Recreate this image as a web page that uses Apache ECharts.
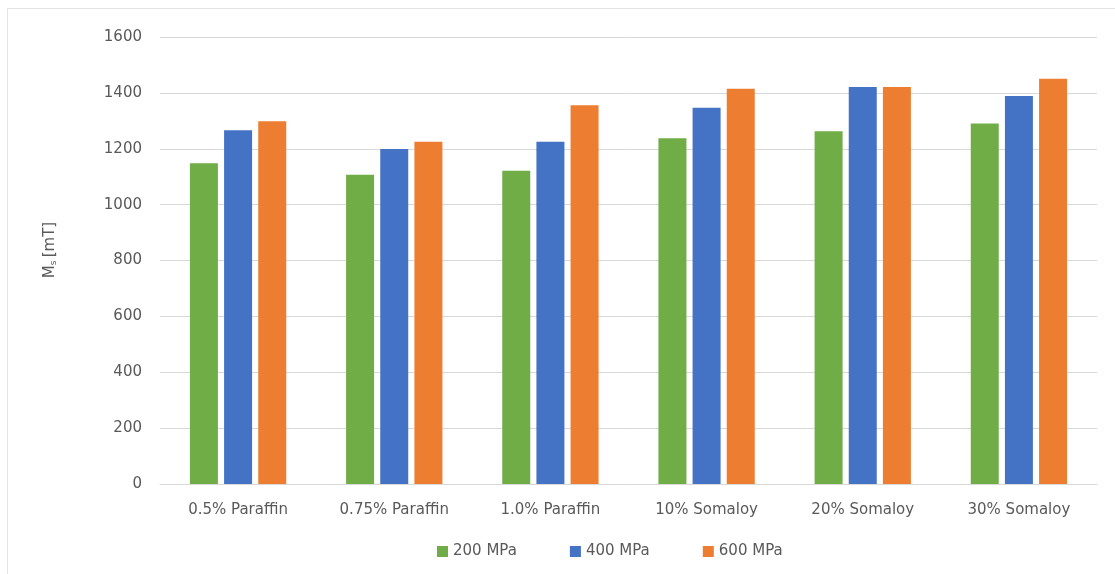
<!DOCTYPE html>
<html>
<head>
<meta charset="utf-8">
<script src="https://cdn.jsdelivr.net/npm/echarts@6/dist/echarts.min.js"></script>
<style>
  html, body { margin: 0; padding: 0; background: #fff; }
  #frame { position: absolute; left: 7px; top: 8px; width: 1120px; height: 580px; border: 1px solid #e4e4e4; box-sizing: border-box; }
  #chart { position: absolute; left: 0; top: 0; width: 1115px; height: 574px; }
</style>
</head>
<body>
<div id="frame"></div>
<div id="chart"></div>
<script>
// Saturation magnetisation per sample, by compaction pressure
const categories = ['0.5% Paraffin', '0.75% Paraffin', '1.0% Paraffin', '10% Somaloy', '20% Somaloy', '30% Somaloy'];
const seriesNames = ['200 MPa', '400 MPa', '600 MPa'];
const ms200 = [1148, 1107, 1121, 1238, 1263, 1290];
const ms400 = [1266, 1199, 1225, 1347, 1421, 1389];
const ms600 = [1298, 1225, 1356, 1415, 1421, 1451];
const colors = ['#70AD47', '#4472C4', '#ED7D31'];

const textColor = '#595959';
const font = '"DejaVu Sans", "Open Sans", sans-serif';

const chart = echarts.init(document.getElementById('chart'), null, { renderer: 'canvas' });

const values = [ms200, ms400, ms600];
chart.setOption({
  animation: false,
  backgroundColor: 'transparent',
  color: colors,
  grid: { left: 160, right: 18, top: 37, bottom: 90, containLabel: false },
  legend: {
    data: seriesNames,
    bottom: 10,
    left: 432,
    icon: 'rect',
    itemWidth: 11,
    itemHeight: 11,
    itemGap: 53,
    textStyle: { color: textColor, fontSize: 15, fontFamily: font }
  },
  graphic: [{
    type: 'text',
    x: 50,
    y: 250,
    rotation: Math.PI / 2,
    style: {
      text: '{m|M}{s|s} {m|[mT]}',
      align: 'center',
      verticalAlign: 'middle',
      rich: {
        m: { fill: textColor, fontSize: 15, fontFamily: font },
        s: { fill: textColor, fontSize: 9, fontFamily: font, padding: [7, 0, 0, 0] }
      }
    }
  }],
  xAxis: {
    type: 'category',
    data: categories,
    axisLine: { show: true, lineStyle: { color: '#d9d9d9', width: 1 } },
    axisTick: { show: false },
    axisLabel: { color: textColor, fontSize: 15, fontFamily: font, margin: 19 }
  },
  yAxis: {
    type: 'value',
    min: 0,
    max: 1600,
    interval: 200,
    axisLine: { show: false },
    axisTick: { show: false },
    splitLine: { lineStyle: { color: '#d9d9d9', width: 1 } },
    axisLabel: { color: textColor, fontSize: 15, fontFamily: font, margin: 18, formatter: v => String(v) }
  },
  series: seriesNames.map((name, i) => ({
    name: name,
    type: 'bar',
    data: values[i],
    barWidth: 28,
    barGap: '22%',
    itemStyle: { color: colors[i] }
  }))
});
</script>
</body>
</html>
